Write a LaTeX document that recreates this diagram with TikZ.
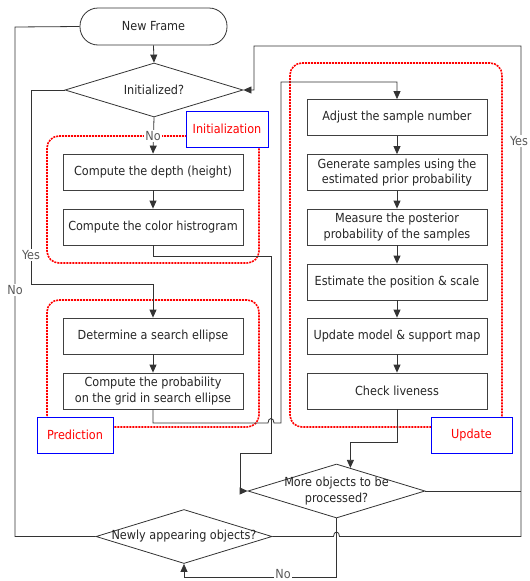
\documentclass[tikz,border=0pt]{standalone}
\usepackage{fontspec}
\IfFontExistsTF{DejaVu Sans Condensed}{\setmainfont{DejaVu Sans Condensed}\gdef\myfsz{12.5}}{\setmainfont{DejaVu Sans}\gdef\myfsz{11.2}}
\usetikzlibrary{arrows.meta,shapes.geometric}
\begin{document}
\begin{tikzpicture}[x=1pt,y=-1pt,
  every node/.style={font=\fontsize{\myfsz}{15.5}\selectfont, text=black!85},
  proc/.style={draw=black!75, line width=0.8pt, fill=white, minimum width=180pt, minimum height=36pt, align=center, inner sep=1pt},
  dec/.style={draw=black!80, line width=0.8pt, diamond, inner sep=0pt, fill=white},
  ln/.style={draw=black!80, line width=0.8pt},
  arr/.style={ln, -{Triangle[length=8pt,width=7pt]}},
  grp/.style={draw=red, line width=1.6pt, dash pattern=on 2pt off 1pt, rounded corners=12pt},
  tag/.style={draw=blue, line width=0.8pt, fill=white, text=red, minimum height=36pt, inner sep=0pt},
  lbl/.style={fill=white, inner sep=1pt, text=black!65}
]
\useasboundingbox (0,0) rectangle (530,581);

% groups
\draw[grp] (47,136) rectangle (259,263);
\draw[grp] (47,300) rectangle (259,427);
\draw[grp] (290,63) rectangle (502,427);

% nodes
\node[draw=black!80, line width=0.8pt, rounded corners=18pt, minimum width=147pt, minimum height=37pt, fill=white] (nf) at (153.5,26.5) {New Frame};
\node[dec, minimum width=178pt, minimum height=54pt] (init) at (154,90) {};
\node (initt) at (init) {Initialized?};

\node[proc] (depth) at (153,172) {Compute the depth (height)};
\node[proc] (hist) at (153,227) {Compute the color histrogram};
\node[proc] (det) at (153,336) {Determine a search ellipse};
\node[proc] (prob) at (153,391) {Compute the probability\\on the grid in search ellipse};

\node[proc] (adj) at (397,117.5) {Adjust the sample number};
\node[proc] (gen) at (397,172.5) {Generate samples using the\\estimated prior probability};
\node[proc] (meas) at (397,227) {Measure the posterior\\probability of the samples};
\node[proc] (est) at (397,282) {Estimate the position \& scale};
\node[proc] (upd) at (397,336) {Update model \& support map};
\node[proc] (chk) at (397,391) {Check liveness};

\node[dec, minimum width=177pt, minimum height=54pt] (more) at (336.5,491) {};
\node[align=center] (moret) at (more) {More objects to be\\processed?};
\node[dec, minimum width=176pt, minimum height=54pt] (newly) at (184,536.5) {};
\node (newlyt) at (newly) {Newly appearing objects?};

% connectors
\draw[arr] (nf.south) -- (init.north);
\draw[arr] (init.west) -- (31,90) -- (31,284) -- (153,284) -- (det.north);
\draw[arr] (init.south) -- (depth.north);
\draw[arr] (depth) -- (hist);
\draw[arr] (hist.south) -- (153,256) -- (271,256) -- (271,453) -- (240,453) |- (more.west);
\draw[arr] (det) -- (prob);
\draw[arr] (prob.south) -- (153,423) -- (268,423) .. controls (268,417) and (274,417) .. (274,423) -- (281,423) -- (281,82) -| (adj.north);
\draw[arr] (adj) -- (gen);
\draw[arr] (gen) -- (meas);
\draw[arr] (meas) -- (est);
\draw[arr] (est) -- (upd);
\draw[arr] (upd) -- (chk);
\draw[arr] (chk.south) -- (397,442) -| (more.59);
\draw[arr] (more.south) -- (336.5,577) -| (newly.south);
\draw[ln] (more.east) -- (521,491);
\draw[arr] (newly.east) -- (333.5,536.5) .. controls (333.5,530.5) and (339.5,530.5) .. (339.5,536.5) -- (521,536.5) -- (521,46) -- (254,46) |- (init.east);
\draw[ln] (newly.west) -- (15,536.5) -- (15,27) -- (nf.west);

% labels
\node[lbl] (l1) at (31,255) {Yes};
\node[lbl] (l2) at (153,136) {No};
\node[lbl, inner ysep=0.5pt] (l3) at (283,574.5) {No};
\node[lbl] (l4) at (519,141) {Yes};
\node[lbl] (l5) at (15,290) {No};

% tags
\node[tag, minimum width=82pt] (tinit) at (227,129) {Initialization};
\node[tag, minimum width=76pt] (tpred) at (75,435) {Prediction};
\node[tag, minimum width=81pt] (tupd) at (471.5,435) {Update};
\end{tikzpicture}
\end{document}
